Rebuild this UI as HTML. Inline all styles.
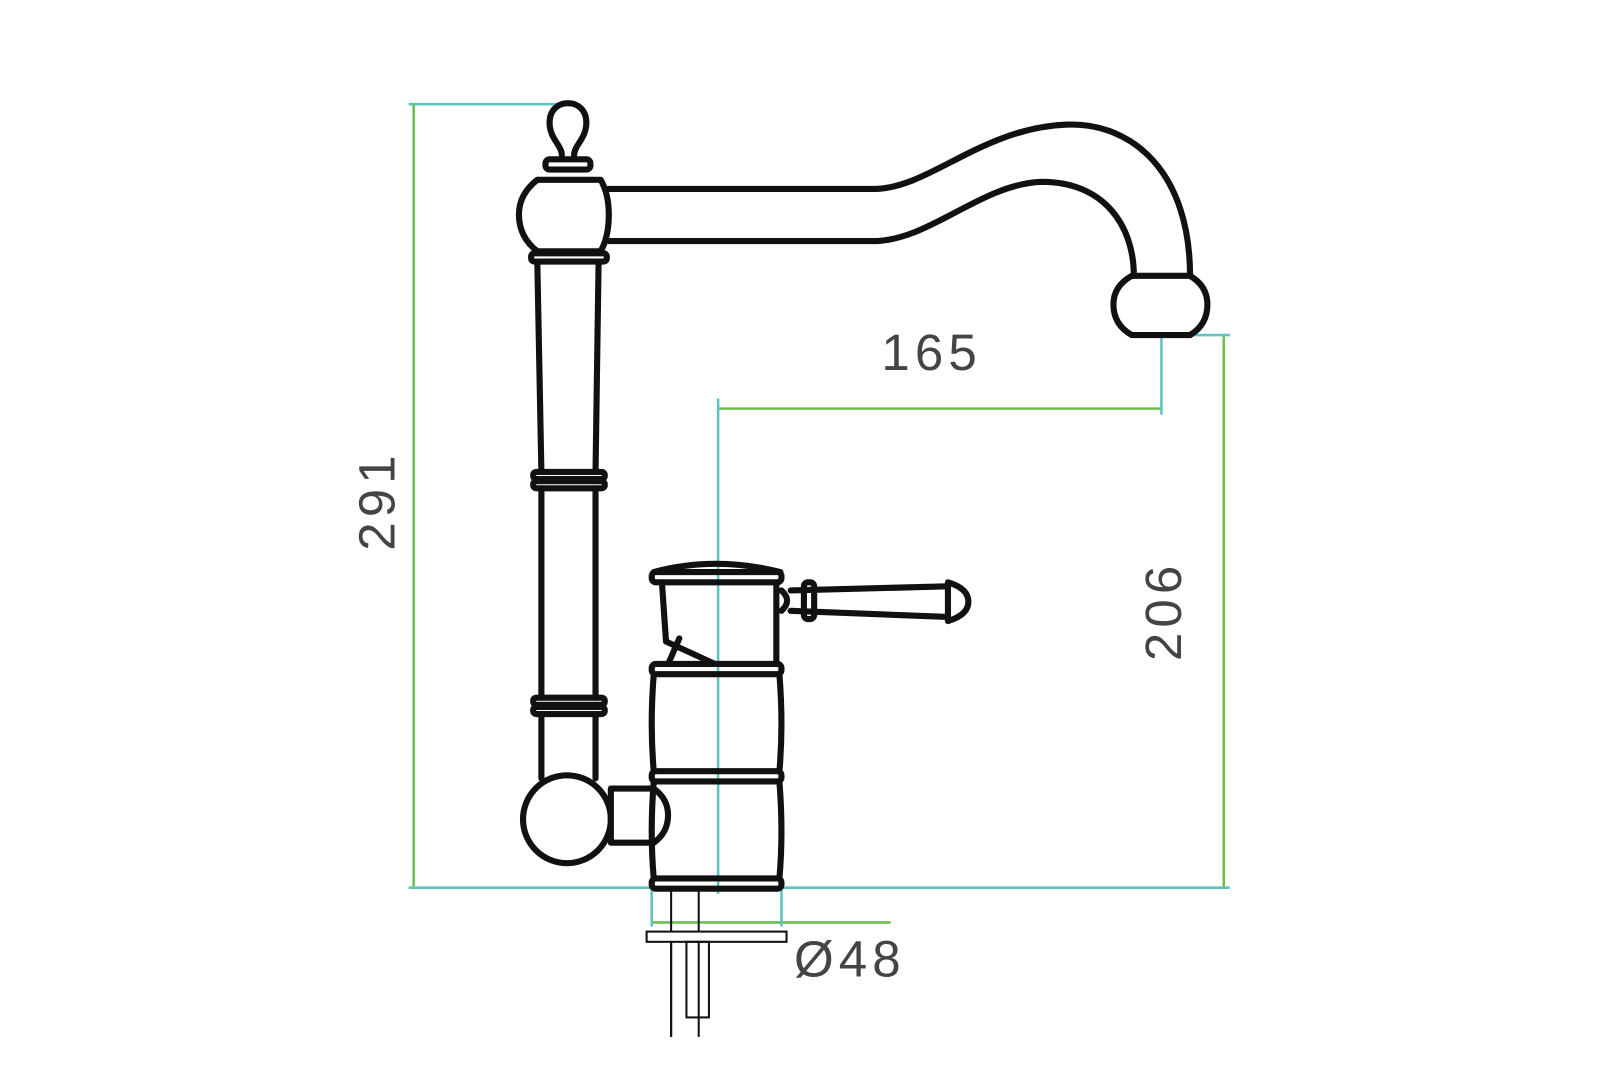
<!DOCTYPE html>
<html><head><meta charset="utf-8"><style>
html,body{margin:0;padding:0;background:#fff;width:1600px;height:1066px;overflow:hidden}
svg{display:block}
text{font-family:"Liberation Sans",sans-serif;fill:#444;font-size:50px;letter-spacing:5px}
</style></head><body>
<svg width="1600" height="1066" viewBox="0 0 1600 1066" xmlns="http://www.w3.org/2000/svg">
<g transform="scale(1.0215)">
<!-- dimension lines -->
<g stroke-width="2.5" fill="none">
<line x1="400" y1="102" x2="556" y2="102" stroke="#5fc4c0"/>
<line x1="405" y1="102" x2="405" y2="869" stroke="#6cc050"/>
<line x1="400" y1="869" x2="1204" y2="869" stroke="#5fc4c0"/>
<line x1="1198" y1="328" x2="1198" y2="869" stroke="#6cc050"/>
<line x1="1135" y1="328" x2="1204" y2="328" stroke="#5fc4c0"/>
<line x1="703" y1="400" x2="1137" y2="400" stroke="#6cc050"/>
<line x1="703" y1="390" x2="703" y2="875" stroke="#5fc4c0"/>
<line x1="1137" y1="328" x2="1137" y2="406" stroke="#5fc4c0"/>
<line x1="638" y1="903" x2="872" y2="903" stroke="#6cc050"/>
<line x1="638" y1="866" x2="638" y2="907" stroke="#5fc4c0"/>
<line x1="765" y1="866" x2="765" y2="907" stroke="#5fc4c0"/>
</g>
<!-- faucet -->
<g stroke="#111" stroke-width="6" fill="none" stroke-linejoin="round" stroke-linecap="round">
<!-- finial -->
<path d="M550 152 C550 142 538 136 538 120 C538 108 546 101 556 101 C566 101 574 108 574 120 C574 136 562 142 562 152"/>
<rect x="534" y="156" width="44" height="10" rx="4"/>
<!-- top ball -->
<path d="M526 176 L588 176 Q596 190 596 210 Q596 232 588 246 L526 246 Q508 232 508 210 Q508 190 526 176 Z"/>
<rect x="520" y="248" width="74" height="8" rx="3"/>
<!-- spout -->
<path d="M596 185 L855 185 C910 185 960 125 1045 122 C1110 120 1165 170 1165 270"/>
<path d="M596 236 L855 236 C910 236 960 180 1020 178 C1080 178 1110 220 1110 270"/>
<path d="M1108 270 L1165 270 Q1182 280 1182 298 Q1182 318 1165 328 L1108 328 Q1090 318 1090 298 Q1090 280 1108 270 Z"/>
<!-- column -->
<path d="M526 256 L530 462 M586 256 L583 462"/>
<rect x="522" y="462" width="70" height="7" rx="3"/>
<rect x="522" y="471" width="70" height="7" rx="3"/>
<path d="M530 478 L530 683 M583 478 L583 683"/>
<rect x="522" y="683" width="70" height="7" rx="3"/>
<rect x="522" y="692" width="70" height="7" rx="3"/>
<path d="M530 699 L530 762 M583 699 L583 762"/>
<circle cx="555" cy="802" r="43" fill="#fff"/>
<path d="M598 772 L640 772 Q654 782 654 798 Q654 815 640 825 L598 825 Z" fill="#fff"/>
<!-- mixer body -->
<path d="M640 560 Q700 544 764 560"/>
<rect x="638" y="560" width="127" height="10" rx="4"/>
<path d="M648 570 L652 628 L700 650 M665 625 L655 648"/>
<path d="M760 572 L760 650"/>
<rect x="638" y="650" width="127" height="10" rx="4"/>
<path d="M640 660 Q636 710 640 755 M763 660 Q767 710 763 755"/>
<rect x="638" y="755" width="127" height="10" rx="4"/>
<path d="M640 765 Q636 815 640 860 M763 765 Q767 815 763 860"/>
<rect x="638" y="860" width="127" height="10" rx="4"/>
<!-- lever -->
<path d="M774 578 L928 574 M774 598 L928 604"/>
<path d="M765 578 Q776 588 765 598" />
<rect x="787" y="570" width="10" height="36" rx="4"/>
<path d="M928 570 Q948 576 948 589 Q948 602 928 608 Z"/>
</g>
<!-- stem -->
<g stroke="#111" stroke-width="2" fill="none">
<line x1="657" y1="870" x2="657" y2="1015"/>
<line x1="684" y1="870" x2="684" y2="1015"/>
<rect x="633" y="912" width="137" height="10" fill="#fff"/>
<rect x="672" y="922" width="22" height="74"/>
<line x1="657" y1="922" x2="657" y2="1015"/>
</g>
<text x="912" y="362" text-anchor="middle">165</text>
<text transform="translate(386 490) rotate(-90)" text-anchor="middle">291</text>
<text transform="translate(1156 598) rotate(-90)" text-anchor="middle">206</text>
<text x="832" y="956" text-anchor="middle">Ø48</text>
</g>
</svg>
</body></html>
